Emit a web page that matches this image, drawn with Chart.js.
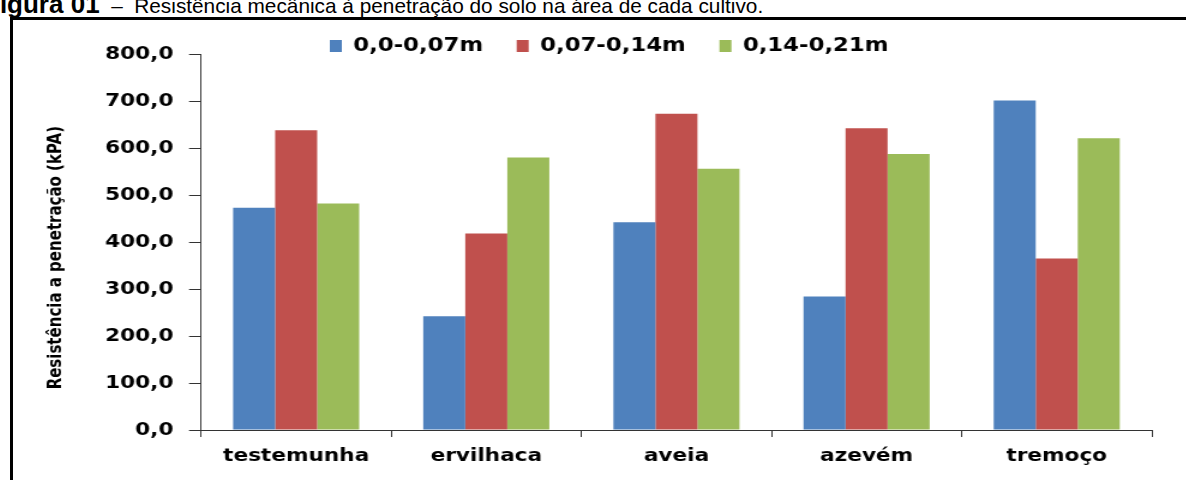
<!DOCTYPE html>
<html lang="pt-BR">
<head>
<meta charset="utf-8">
<title>Resistência mecânica à penetração do solo</title>
<script src="https://cdn.jsdelivr.net/npm/chart.js@4/dist/chart.umd.min.js"></script>
<style>
  html, body { margin: 0; padding: 0; background: #fff; width: 1186px; height: 480px; overflow: hidden; position: relative; }
  #caption { position: absolute; left: -16px; top: -11px; font-family: "Liberation Sans", Arial, sans-serif; font-size: 20.8px; line-height: 30px; white-space: nowrap; color: #000; }
  #caption b { font-weight: bold; font-size: 26px; }
  #frame { position: absolute; left: 10px; top: 17px; width: 1200px; height: 500px; border: 3px solid #000; box-sizing: border-box; }
  /* the chart is laid out narrow and stretched sideways */
  #wrap { position: absolute; left: 13px; top: 20px; width: 977px; height: 460px; transform: scaleX(1.2); transform-origin: 0 0; }
  #chart { display: block; }
</style>
</head>
<body>
<div id="caption"><b>Figura 01</b> &nbsp;–&nbsp; Resistência mecânica à penetração do solo na área de cada cultivo.</div>
<div id="frame"></div>
<div id="wrap"><canvas id="chart" width="977" height="460"></canvas></div>
<script>
// Cultivos avaliados
const categories = ['testemunha', 'ervilhaca', 'aveia', 'azevém', 'tremoço'];

// Camadas de solo (legenda)
const layerNames = ['0,0-0,07m', '0,07-0,14m', '0,14-0,21m'];

// Resistência à penetração (kPa) por camada
const layer1 = [473, 242, 442, 284, 701];
const layer2 = [638, 418, 673, 642, 365];
const layer3 = [482, 580, 556, 587, 621];

// Rótulos do eixo Y
const yTickLabels = ['0,0', '100,0', '200,0', '300,0', '400,0', '500,0', '600,0', '700,0', '800,0'];

const layerColors = ['#4F81BD', '#C0504D', '#9BBB59'];

// Moves the legend row to a fixed spot above the plot
const legendPlace = {
  id: 'legendPlace',
  afterLayout(chart, args, opts) {
    const lg = chart.legend;
    if (!lg) return;
    const w = lg.width, h = lg.height;
    lg.left = opts.left; lg.right = opts.left + w;
    lg.top = opts.top; lg.bottom = opts.top + h;
  }
};

Chart.defaults.font.family = '"DejaVu Sans", Verdana, sans-serif';
Chart.defaults.color = '#000';

new Chart(document.getElementById('chart'), {
  type: 'bar',
  data: {
    labels: categories,
    datasets: [layer1, layer2, layer3].map((vals, i) => ({
      label: layerNames[i],
      data: vals,
      backgroundColor: layerColors[i],
      borderWidth: 0,
      categoryPercentage: 0.663,
      barPercentage: 1.0
    }))
  },
  plugins: [legendPlace],
  options: {
    responsive: false,
    animation: false,
    layout: { padding: { top: -23, left: 0, right: 28, bottom: 0 } },
    plugins: {
      tooltip: { enabled: false },
      title: { display: false },
      legend: {
        position: 'top',
        align: 'start',
        labels: {
          boxWidth: 10,
          boxHeight: 12,
          padding: 28,
          color: '#000',
          font: { size: 19, weight: 'bold' }
        }
      },
      legendPlace: { left: 236, top: -11.5 }
    },
    scales: {
      x: {
        grid: { display: true, drawOnChartArea: false, drawTicks: true, tickLength: 7, color: '#333', offset: true },
        border: { display: true, color: '#333', width: 1 },
        ticks: { color: '#000', padding: 9, font: { size: 18, weight: 'bold' }, maxRotation: 0 },
        afterFit(scale) { scale.height = 50; }
      },
      y: {
        min: 0,
        max: 800,
        ticks: {
          stepSize: 100,
          color: '#000',
          padding: 13,
          font: { size: 18, weight: 'bold' },
          callback: (value, index) => yTickLabels[index]
        },
        grid: { display: true, drawOnChartArea: false, drawTicks: true, tickLength: 10, color: '#333' },
        border: { display: true, color: '#333', width: 1 },
        title: {
          display: true,
          // trailing no-break spaces lower the title a little along the axis
          text: 'Resistência a penetração (kPA)' + '\u00A0'.repeat(6),
          color: '#000',
          font: { size: 15, weight: 'bold' },
          padding: { top: 27, bottom: 0 }
        },
        afterFit(scale) { scale.width = 156.7; }
      }
    }
  }
});
</script>
</body>
</html>
